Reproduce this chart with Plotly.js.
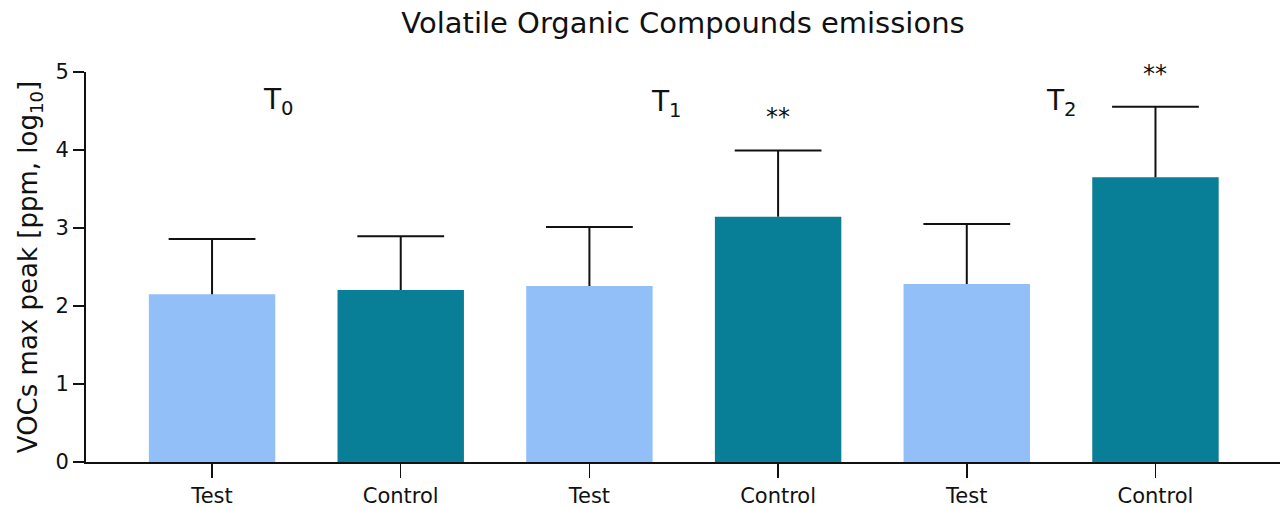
<!DOCTYPE html>
<html>
<head>
<meta charset="utf-8">
<script src="https://cdn.plot.ly/plotly-3.0.1.min.js"></script>
<style>html,body{margin:0;padding:0;background:#fff;}#chart{width:1282px;height:508px;}</style>
</head>
<body>
<div id="chart"></div>
<script>
const tickLabels = ["Test", "Control", "Test", "Control", "Test", "Control"];
const groups = ["Test", "Control", "Test", "Control", "Test", "Control"];
const means = [2.15, 2.205, 2.256, 3.145, 2.282, 3.65];
const errors = [0.71, 0.69, 0.757, 0.85, 0.77, 0.905];
const timeLabels = ["T<sub>0</sub>", "T<sub>1</sub>", "T<sub>2</sub>"];
const sigLabels = ["", "", "", "**", "", "**"];

const colorMap = {Test: "#93BFF9", Control: "#087E97"};
const xs = means.map((_, i) => i);
const tops = means.map((m, i) => m + errors[i]);

const bars = {
  type: "bar", x: xs, y: means, width: 0.67,
  marker: {color: groups.map(g => colorMap[g]), line: {width: 0}},
  hoverinfo: "none", showlegend: false
};
// stems of the upper error bars
const stemX = [], stemY = [];
xs.forEach((x, i) => { stemX.push(x, x, null); stemY.push(means[i], tops[i], null); });
const stems = {
  type: "scatter", mode: "lines", x: stemX, y: stemY,
  line: {color: "#111", width: 2}, hoverinfo: "none", showlegend: false, cliponaxis: false
};
const caps = {
  type: "scatter", mode: "markers", x: xs, y: tops,
  marker: {symbol: "line-ew", size: 62, line: {color: "#111", width: 2}},
  hoverinfo: "none", showlegend: false, cliponaxis: false
};

const font = "'DejaVu Sans', sans-serif";
const annotations = [];
const timePos = [[0.35, 4.62], [2.41, 4.59], [4.5, 4.61]];
timeLabels.forEach((t, i) => {
  annotations.push({x: timePos[i][0], y: timePos[i][1], xref: "x", yref: "y", text: t,
    showarrow: false, font: {family: font, size: 28, color: "#111"}});
});
sigLabels.forEach((s, i) => {
  if (s) annotations.push({x: xs[i], y: tops[i], xref: "x", yref: "y", text: s,
    showarrow: false, yanchor: "bottom", yshift: 17, font: {family: font, size: 24, color: "#111"}});
});

const layout = {
  width: 1282, height: 508,
  margin: {l: 86, r: 2, t: 72, b: 46},
  paper_bgcolor: "#fff", plot_bgcolor: "#fff",
  title: {text: "Volatile Organic Compounds emissions", xref: "paper", x: 0.5, xanchor: "center", y: 0.955, yanchor: "middle",
          font: {family: font, size: 29, color: "#111"}},
  xaxis: {
    range: [-0.668, 5.66], tickvals: xs, ticktext: tickLabels,
    showline: true, linecolor: "#111", linewidth: 2, ticks: "outside", ticklen: 14, tickwidth: 1.5,
    tickcolor: "#111", showgrid: false, zeroline: false,
    tickfont: {family: font, size: 21, color: "#111"}
  },
  yaxis: {
    range: [0, 5], tickvals: [0, 1, 2, 3, 4, 5],
    showline: true, linecolor: "#111", linewidth: 2, ticks: "outside", ticklen: 11, tickwidth: 1.5,
    tickcolor: "#111", showgrid: false, zeroline: false,
    tickfont: {family: font, size: 21, color: "#111"},
    title: {text: "VOCs max peak [ppm, log<sub>10</sub>]", standoff: 10, font: {family: font, size: 26, color: "#111"}}
  },
  annotations: annotations
};

Plotly.newPlot("chart", [bars, stems, caps], layout, {displayModeBar: false, staticPlot: true});
</script>
</body>
</html>
